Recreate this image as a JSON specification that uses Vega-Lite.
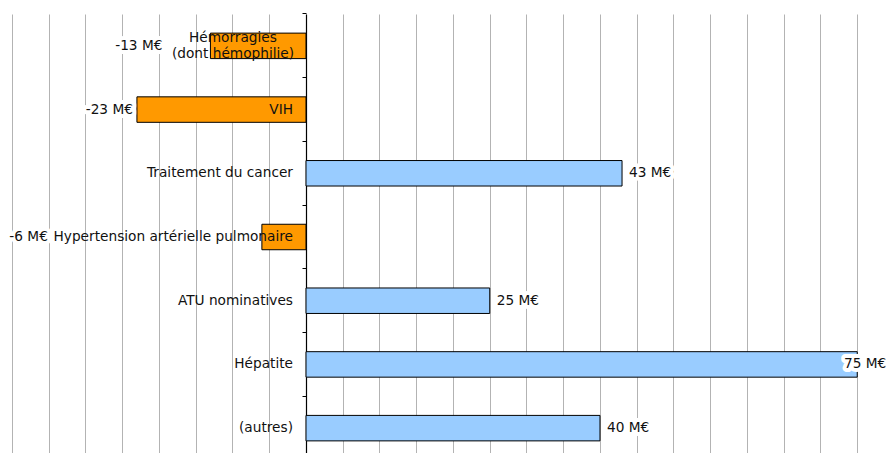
{
  "$schema": "https://vega.github.io/schema/vega-lite/v6.json",
  "width": 889,
  "height": 446,
  "autosize": "none",
  "padding": {"top": 14, "left": 0, "right": 0, "bottom": 0},
  "background": "white",
  "config": {
    "view": {"stroke": null},
    "text": {"font": "DejaVu Sans", "fontSize": 13.7, "color": "#111111"},
    "axisX": {"grid": true, "gridColor": "#b3b3b3", "gridWidth": 1, "labels": false, "ticks": false, "domain": false, "title": null}
  },
  "data": {
    "values": [
      {"cat": "Hémorragies (dont hémophilie)", "label": ["Hémorragies", "(dont hémophilie)"], "value": -13, "lab": "-13 M€"},
      {"cat": "VIH", "label": "VIH", "value": -23, "lab": "-23 M€"},
      {"cat": "Traitement du cancer", "label": "Traitement du cancer", "value": 43, "lab": "43 M€"},
      {"cat": "Hypertension artérielle pulmonaire", "label": "Hypertension artérielle pulmonaire", "value": -6, "lab": "-6 M€"},
      {"cat": "ATU nominatives", "label": "ATU nominatives", "value": 25, "lab": "25 M€"},
      {"cat": "Hépatite", "label": "Hépatite", "value": 75, "lab": "75 M€"},
      {"cat": "(autres)", "label": "(autres)", "value": 40, "lab": "40 M€"}
    ]
  },
  "encoding": {
    "y": {
      "field": "cat", "type": "nominal", "sort": null,
      "scale": {"paddingInner": 0.6, "paddingOuter": 0.3},
      "axis": {"orient": "left", "offset": -306, "labels": false, "title": null, "grid": false,
               "domain": true, "domainColor": "#000000", "domainWidth": 1.2,
               "ticks": true, "tickColor": "#000000", "tickSize": 4, "bandPosition": -0.75}
    }
  },
  "layer": [
    {
      "mark": {"type": "bar", "stroke": "#000000", "strokeWidth": 1},
      "encoding": {
        "x": {"field": "value", "type": "quantitative",
              "scale": {"domain": [-41.63, 79.32], "nice": false, "zero": false},
              "axis": {"values": [-40,-35,-30,-25,-20,-15,-10,-5,0,5,10,15,20,25,30,35,40,45,50,55,60,65,70,75]}},
        "x2": {"datum": 0},
        "color": {"condition": {"test": "datum.value < 0", "value": "#FF9900"}, "value": "#99CCFF"}
      }
    },
    {
      "transform": [{"filter": "datum.cat !== 'Hémorragies (dont hémophilie)'"}],
      "mark": {"type": "text", "align": "right", "baseline": "middle", "dx": -13},
      "encoding": {"x": {"datum": 0, "axis": {"values": [-40,-35,-30,-25,-20,-15,-10,-5,0,5,10,15,20,25,30,35,40,45,50,55,60,65,70,75]}}, "text": {"field": "label"}}
    },
    {
      "transform": [{"filter": "datum.cat === 'Hémorragies (dont hémophilie)'"}],
      "mark": {"type": "text", "align": "center", "baseline": "middle", "dx": -73, "dy": -8, "lineHeight": 16},
      "encoding": {"x": {"datum": 0, "axis": {"values": [-40,-35,-30,-25,-20,-15,-10,-5,0,5,10,15,20,25,30,35,40,45,50,55,60,65,70,75]}}, "text": {"field": "label"}}
    },
    {
      "transform": [{"filter": "datum.value > 0 && datum.value < 70"}],
      "encoding": {"x": {"field": "value", "type": "quantitative", "axis": {"values": [-40,-35,-30,-25,-20,-15,-10,-5,0,5,10,15,20,25,30,35,40,45,50,55,60,65,70,75]}}, "text": {"field": "lab"}},
      "layer": [
        {"mark": {"type": "text", "align": "left", "baseline": "middle", "dx": 7, "stroke": "white", "strokeWidth": 8, "strokeJoin": "round"}},
        {"mark": {"type": "text", "align": "left", "baseline": "middle", "dx": 7}}
      ]
    },
    {
      "transform": [{"filter": "datum.value >= 70"}],
      "encoding": {"x": {"field": "value", "type": "quantitative", "axis": {"values": [-40,-35,-30,-25,-20,-15,-10,-5,0,5,10,15,20,25,30,35,40,45,50,55,60,65,70,75]}}, "text": {"field": "lab"}},
      "layer": [
        {"mark": {"type": "text", "align": "right", "baseline": "middle", "dx": 29, "stroke": "white", "strokeWidth": 8, "strokeJoin": "round"}},
        {"mark": {"type": "text", "align": "right", "baseline": "middle", "dx": 29}}
      ]
    },
    {
      "transform": [{"filter": "datum.value === -23"}],
      "encoding": {"x": {"field": "value", "type": "quantitative", "axis": {"values": [-40,-35,-30,-25,-20,-15,-10,-5,0,5,10,15,20,25,30,35,40,45,50,55,60,65,70,75]}}, "text": {"field": "lab"}},
      "layer": [
        {"mark": {"type": "text", "align": "right", "baseline": "middle", "dx": -4, "stroke": "white", "strokeWidth": 8, "strokeJoin": "round"}},
        {"mark": {"type": "text", "align": "right", "baseline": "middle", "dx": -4}}
      ]
    },
    {
      "transform": [{"filter": "datum.value === -13"}],
      "encoding": {"x": {"field": "value", "type": "quantitative", "axis": {"values": [-40,-35,-30,-25,-20,-15,-10,-5,0,5,10,15,20,25,30,35,40,45,50,55,60,65,70,75]}}, "text": {"field": "lab"}},
      "layer": [
        {"mark": {"type": "text", "align": "right", "baseline": "middle", "dx": -48, "stroke": "white", "strokeWidth": 8, "strokeJoin": "round"}},
        {"mark": {"type": "text", "align": "right", "baseline": "middle", "dx": -48}}
      ]
    },
    {
      "transform": [{"filter": "datum.value === -6"}],
      "encoding": {"x": {"field": "value", "type": "quantitative", "axis": {"values": [-40,-35,-30,-25,-20,-15,-10,-5,0,5,10,15,20,25,30,35,40,45,50,55,60,65,70,75]}}, "text": {"field": "lab"}},
      "layer": [
        {"mark": {"type": "text", "align": "right", "baseline": "middle", "dx": -214, "stroke": "white", "strokeWidth": 8, "strokeJoin": "round"}},
        {"mark": {"type": "text", "align": "right", "baseline": "middle", "dx": -214}}
      ]
    }
  ]
}
